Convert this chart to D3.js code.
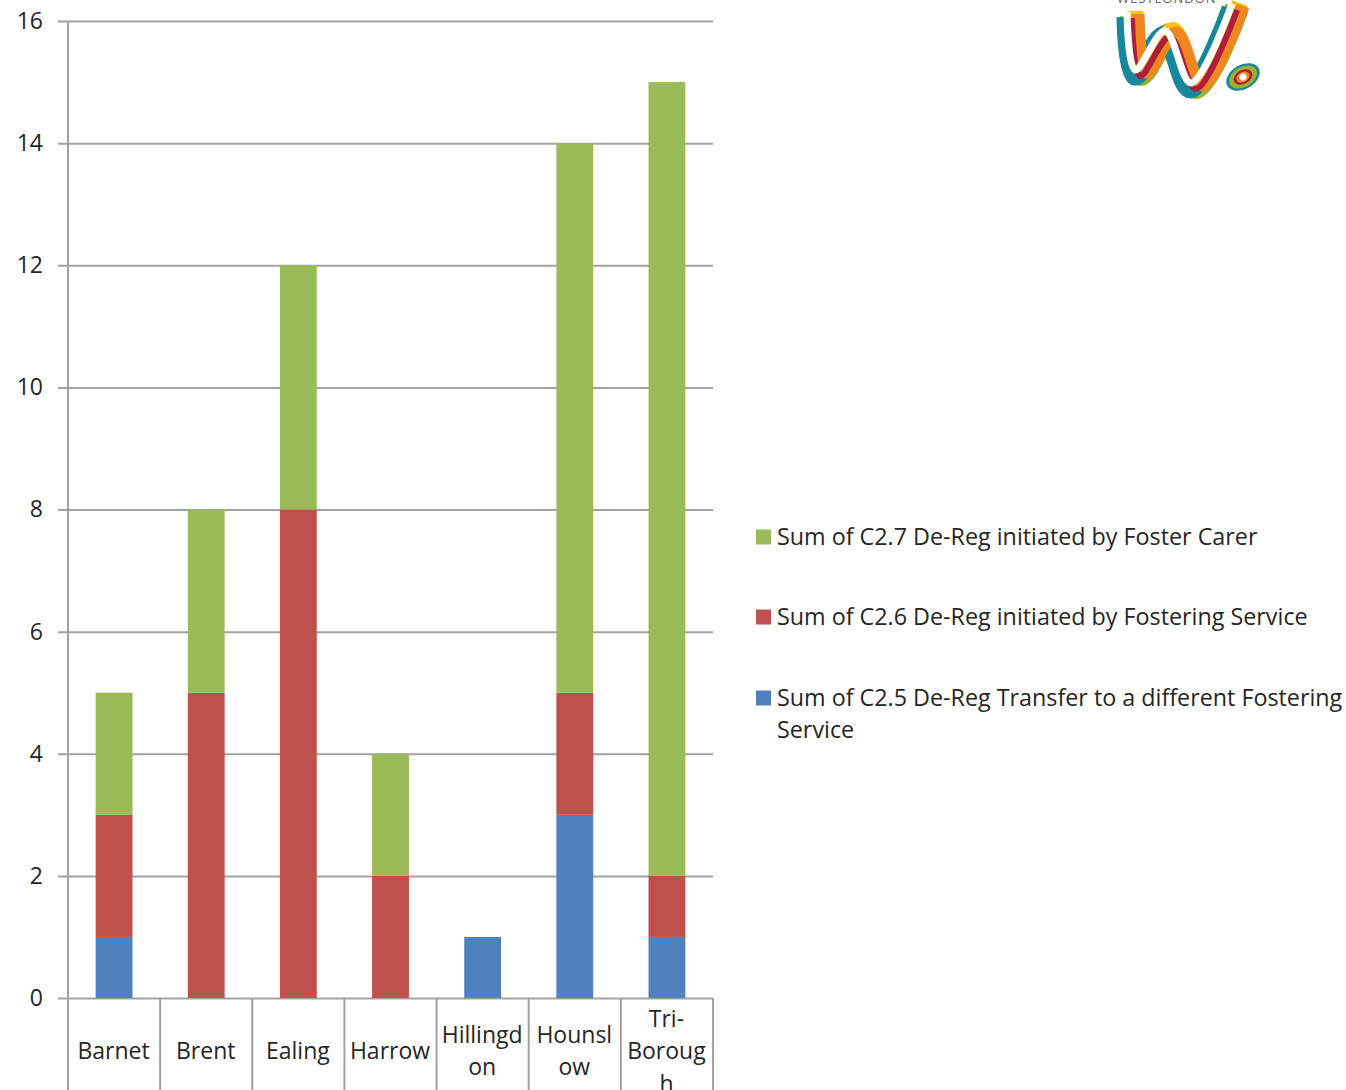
<!DOCTYPE html>
<html>
<head>
<meta charset="utf-8">
<script src="https://cdnjs.cloudflare.com/ajax/libs/d3/7.8.5/d3.min.js"></script>
<style>
html, body { margin: 0; padding: 0; background: #fff; overflow: hidden; }
svg { display: block; }
text { font-family: "Open Sans", "Noto Sans", sans-serif; fill: #262626; }
.domain { display: none; }
</style>
</head>
<body>
<div id="chart"></div>
<script>
// boroughs, with the line breaks the axis wraps them at
var boroughs = ['Barnet', 'Brent', 'Ealing', 'Harrow', 'Hillingdon', 'Hounslow', 'Tri-Borough'];
var boroughLines = [['Barnet'], ['Brent'], ['Ealing'], ['Harrow'], ['Hillingd', 'on'], ['Hounsl', 'ow'], ['Tri-', 'Boroug', 'h']];

var transferValues = [1, 0, 0, 0, 1, 3, 1];
var serviceValues = [2, 5, 8, 2, 0, 2, 1];
var carerValues = [2, 3, 4, 2, 0, 9, 13];

var yTicks = [0, 2, 4, 6, 8, 10, 12, 14, 16];

var seriesKeys = ['transfer', 'service', 'carer'];
var seriesColors = { transfer: '#4f81bd', service: '#c0504d', carer: '#9bbb59' };

var legendLabels = [
  { key: 'carer', lines: ['Sum of C2.7 De-Reg initiated by Foster Carer'] },
  { key: 'service', lines: ['Sum of C2.6 De-Reg initiated by Fostering Service'] },
  { key: 'transfer', lines: ['Sum of C2.5 De-Reg Transfer to a different Fostering', 'Service'] }
];

var width = 1346, height = 1090;
var plotLeft = 68, plotRight = 713, plotTop = 21, plotBottom = 998;
var axisColor = '#a2a2a5';

var svg = d3.select('#chart').append('svg')
  .attr('width', width)
  .attr('height', height);

var x = d3.scaleBand().domain(boroughs).range([plotLeft, plotRight]);
var y = d3.scaleLinear().domain([0, 16]).range([plotBottom, plotTop]);
var barWidth = x.bandwidth() * 0.4;

// gridlines and value labels
var yAxis = svg.append('g')
  .attr('transform', 'translate(' + plotLeft + ',0)')
  .call(d3.axisLeft(y).tickValues(yTicks).tickSize(10).tickPadding(14));
yAxis.selectAll('line')
  .attr('x2', -10)
  .attr('x1', plotRight - plotLeft)
  .attr('stroke', axisColor)
  .attr('stroke-width', 2);
yAxis.selectAll('text')
  .style('font-size', '23px')
  .attr('dy', '0.32em')
  .attr('x', -25);

// category separators run off the bottom edge
svg.append('g').selectAll('line')
  .data(boroughs.concat(['end']))
  .enter().append('line')
  .attr('x1', function(d) { return d === 'end' ? plotRight : x(d); })
  .attr('x2', function(d) { return d === 'end' ? plotRight : x(d); })
  .attr('y1', plotBottom)
  .attr('y2', height)
  .attr('stroke', axisColor)
  .attr('stroke-width', 2);
svg.append('line')
  .attr('x1', plotLeft).attr('x2', plotLeft)
  .attr('y1', plotTop).attr('y2', plotBottom)
  .attr('stroke', axisColor)
  .attr('stroke-width', 2);

// stacked bars
var rows = boroughs.map(function(b, i) {
  return { borough: b, transfer: transferValues[i], service: serviceValues[i], carer: carerValues[i] };
});
var stacked = d3.stack().keys(seriesKeys)(rows);

svg.append('g').selectAll('g')
  .data(stacked)
  .enter().append('g')
  .attr('fill', function(d) { return seriesColors[d.key]; })
  .selectAll('rect')
  .data(function(d) { return d; })
  .enter().append('rect')
  .attr('x', function(d) { return x(d.data.borough) + (x.bandwidth() - barWidth) / 2; })
  .attr('width', barWidth)
  .attr('y', function(d) { return y(d[1]); })
  .attr('height', function(d) { return y(d[0]) - y(d[1]); });

// wrapped category labels
var lineHeight = 32.5;
var labels = svg.append('g').selectAll('text')
  .data(boroughLines)
  .enter().append('text')
  .attr('text-anchor', 'middle')
  .style('font-size', '23px')
  .attr('transform', function(d, i) {
    return 'translate(' + (x(boroughs[i]) + x.bandwidth() / 2 - 0.5) + ',1051)';
  });
labels.selectAll('tspan')
  .data(function(d) {
    return d.map(function(t, i) { return { t: t, off: (i - (d.length - 1) / 2) * lineHeight }; });
  })
  .enter().append('tspan')
  .attr('x', 0)
  .attr('y', function(d) { return d.off; })
  .attr('dy', '0.35em')
  .text(function(d) { return d.t; });

// legend
var legendY = [537, 617, 698];
var legend = svg.append('g').selectAll('g')
  .data(legendLabels)
  .enter().append('g')
  .attr('transform', function(d, i) { return 'translate(756,' + legendY[i] + ')'; });
legend.append('rect')
  .attr('y', -7.5)
  .attr('width', 15)
  .attr('height', 15)
  .attr('fill', function(d) { return seriesColors[d.key]; });
legend.selectAll('text')
  .data(function(d) { return d.lines; })
  .enter().append('text')
  .attr('x', 21)
  .attr('y', function(d, i) { return i * 32; })
  .attr('dy', '0.35em')
  .style('font-size', '23.3px')
  .text(function(d) { return d; });

// brush-stroke W logo, top right
var logo = svg.append('g').attr('fill', 'none').attr('stroke-linejoin', 'round').attr('stroke-linecap', 'butt');
var line = d3.line().curve(d3.curveCatmullRom);
svg.append('text')
  .attr('x', 1117).attr('y', 3)
  .style('font-size', '13px').style('letter-spacing', '1px')
  .style('fill', '#666')
  .text('WESTLONDON');

var wPath = [[1129, 14], [1137, 72], [1167, 33], [1193, 85], [1234, 6]];
var strokes = [
  { color: '#9fb02f', w: 24, dx: 3, dy: 2 },
  { color: '#16889c', w: 21, dx: -2, dy: 3 },
  { color: '#f5c31c', w: 16, dx: 6, dy: -3 },
  { color: '#f0861f', w: 13, dx: 9, dy: 0 },
  { color: '#ad1e3e', w: 6, dx: 3, dy: 4 },
  { color: '#ffffff', w: 7, dx: -2, dy: -2 }
];
logo.selectAll('path')
  .data(strokes)
  .enter().append('path')
  .attr('d', function(d) {
    return line(wPath.map(function(p) { return [p[0] + d.dx, p[1] + d.dy]; }));
  })
  .attr('stroke', function(d) { return d.color; })
  .attr('stroke-width', function(d) { return d.w; });

var dots = [
  { color: '#16889c', r: 18, rx: 12 },
  { color: '#9fb02f', r: 15, rx: 10 },
  { color: '#ad1e3e', r: 10, rx: 7 },
  { color: '#f0861f', r: 7, rx: 5 },
  { color: '#ffffff', r: 3.5, rx: 3.5 }
];
svg.append('g').selectAll('ellipse')
  .data(dots)
  .enter().append('ellipse')
  .attr('transform', 'translate(1243,77) rotate(-30)')
  .attr('rx', function(d) { return d.r; })
  .attr('ry', function(d) { return d.rx; })
  .attr('fill', function(d) { return d.color; });
</script>
</body>
</html>
